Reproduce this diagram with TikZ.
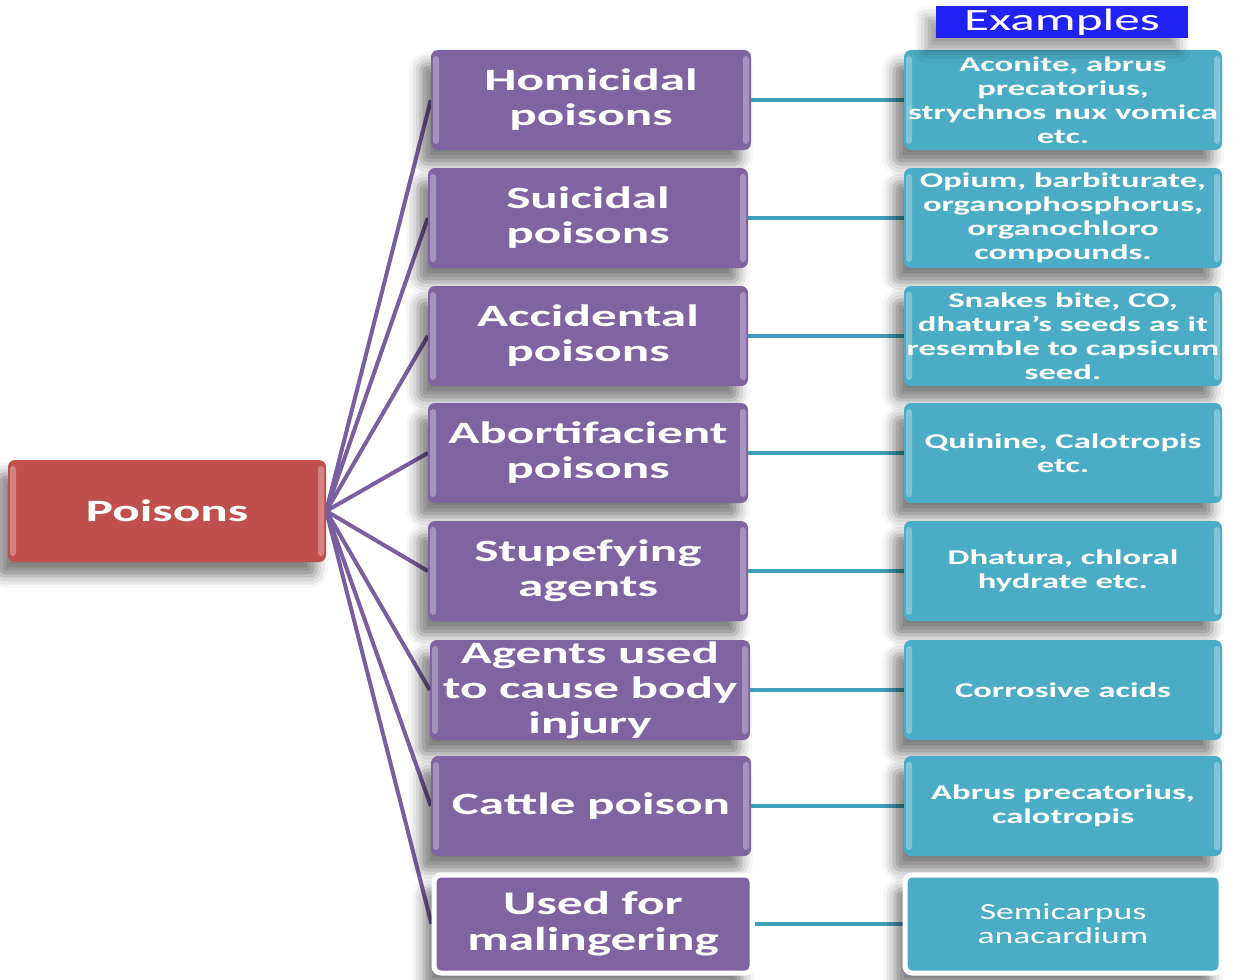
\documentclass[tikz,border=0pt]{standalone}
\usepackage{fontspec}
\setmainfont{Carlito}
\newfontfamily\widefont[FakeStretch=1.65]{Carlito}
\newfontfamily\midwidefont[FakeStretch=1.55]{Carlito}
\usetikzlibrary{shadows.blur,backgrounds}
\definecolor{catpurple}{HTML}{8064A2}
\definecolor{expteal}{HTML}{4BACC6}
\definecolor{rootred}{HTML}{C0504D}
\definecolor{linkpurple}{HTML}{7A5FA0}
\definecolor{linkteal}{HTML}{3FA0BA}
\definecolor{headblue}{HTML}{2222F5}
\begin{document}
\begin{tikzpicture}[x=1pt,y=-1pt,
  gloss/.style={path picture={
    \fill[white, opacity=0.3, rounded corners=3pt]
      ([xshift=2pt,yshift=-6pt]path picture bounding box.north west) rectangle
      ([xshift=8pt,yshift=6pt]path picture bounding box.south west);
    \fill[white, opacity=0.3, rounded corners=3pt]
      ([xshift=-2pt,yshift=-6pt]path picture bounding box.north east) rectangle
      ([xshift=-8pt,yshift=6pt]path picture bounding box.south east);}},
  box/.style={rounded corners=7pt, minimum width=320pt, minimum height=100pt,
    text=white, align=center, inner sep=0pt, gloss,
    blur shadow={shadow xshift=-10pt, shadow yshift=-14pt, shadow blur radius=12pt, shadow opacity=50}},
  cat/.style={box, fill=catpurple, font=\widefont\bfseries\fontsize{31}{35}\selectfont},
  ex/.style={box, minimum width=318pt, fill=expteal, font=\widefont\bfseries\fontsize{21}{24}\selectfont},
  framed/.style={draw=white, line width=5pt, path picture={}},
  plain/.style={font=\midwidefont\bfseries\fontsize{33}{36}\selectfont},
  plainex/.style={font=\midwidefont\fontsize{23}{24}\selectfont},
  spoke/.style={draw=linkpurple, line width=4pt},
  tie/.style={draw=linkteal, line width=3.5pt}]
\useasboundingbox (0,0) rectangle (1233,979);

% root
\node[box, fill=rootred, minimum width=318pt, minimum height=102pt,
  font=\widefont\bfseries\fontsize{31}{35}\selectfont] (root) at (167,511) {Poisons};

% categories
\node[cat] (c1) at (591,100) {Homicidal\\poisons};
\node[cat] (c2) at (588,218) {Suicidal\\poisons};
\node[cat] (c3) at (588,336) {Accidental\\poisons};
\node[cat] (c4) at (588,453) {Abortifacient\\poisons};
\node[cat] (c5) at (588,571) {Stupefying\\agents};
\node[cat] (c6) at (590,690) {Agents used\\to cause body\\injury};
\node[cat] (c7) at (591,806) {Cattle poison};
\node[cat, framed, plain, minimum width=318pt, minimum height=98pt] (c8) at (593,924) {Used for\\malingering};

% examples
\node[ex] (e1) at (1063,100) {Aconite, abrus\\precatorius,\\strychnos nux vomica\\etc.};
\node[ex] (e2) at (1063,218) {Opium, barbiturate,\\organophosphorus,\\organochloro\\compounds.};
\node[ex] (e3) at (1063,336) {Snakes bite, CO,\\dhatura’s seeds as it\\resemble to capsicum\\seed.};
\node[ex] (e4) at (1063,453) {Quinine, Calotropis\\etc.};
\node[ex] (e5) at (1063,571) {Dhatura, chloral\\hydrate etc.};
\node[ex] (e6) at (1063,690) {Corrosive acids};
\node[ex] (e7) at (1063,806) {Abrus precatorius,\\calotropis};
\node[ex, framed, plainex, minimum width=316pt, minimum height=98pt] (e8) at (1063,924) {Semicarpus\\anacardium};

% heading
\node[fill=headblue, minimum width=252pt, minimum height=32pt, inner sep=0pt,
  text=white, font=\widefont\fontsize{31}{31}\selectfont,
  blur shadow={shadow xshift=-10pt, shadow yshift=-12pt, shadow blur radius=12pt, shadow opacity=40}] (head) at (1062,22) {Examples};

% connectors, kept behind the boxes
\begin{scope}[on background layer]
\foreach \i in {1,...,8}{
  \draw[spoke] (root.east) -- (c\i.west);
  \draw[tie] (c\i.east) -- (e\i.west);
}
\end{scope}
\end{tikzpicture}
\end{document}
